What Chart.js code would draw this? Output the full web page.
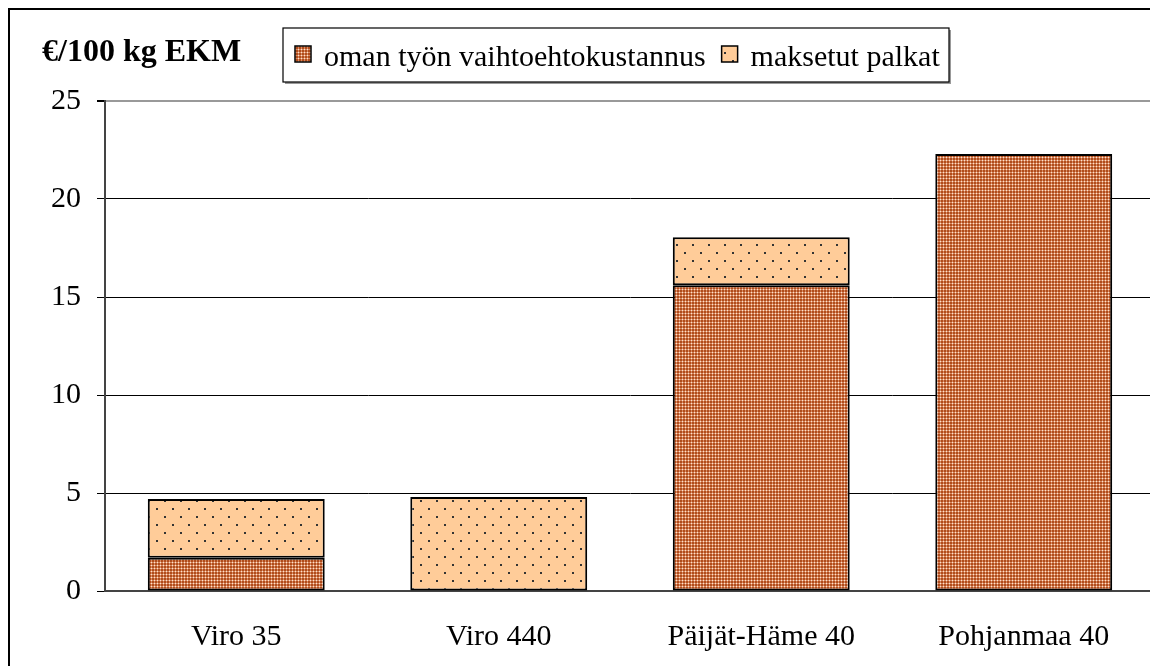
<!DOCTYPE html>
<html>
<head>
<meta charset="utf-8">
<script src="https://cdn.jsdelivr.net/npm/chart.js@4/dist/chart.umd.min.js"></script>
<style>
  html, body { margin: 0; padding: 0; background: #fff; overflow: hidden; }
  #frame { position: absolute; left: 8px; top: 8px; width: 1300px; height: 800px;
           border-left: 2px solid #000; border-top: 2px solid #000; }
  #wrap { position: absolute; left: 0; top: 0; width: 1160px; height: 666px; }
</style>
</head>
<body>
<div id="frame"></div>
<div id="wrap"><canvas id="kustannusChart"></canvas></div>
<script>
// Kategoriat ja sarjat
const kategoriat = ['Viro 35', 'Viro 440', 'Päijät-Häme 40', 'Pohjanmaa 40'];
const omanTyonKustannus = [1.7, 0, 15.6, 22.3];
const maksetutPalkat = [3.0, 4.8, 2.45, 0];
const yTicks = [0, 5, 10, 15, 20, 25];
const sarjaNimet = ['oman työn vaihtoehtokustannus', 'maksetut palkat'];

// Kuviot (ruskea pisterasteri ja oranssi pisteet)
function ruskeaKuvio() {
    const c = document.createElement('canvas');
    c.width = 3; c.height = 3;
    const g = c.getContext('2d');
    g.fillStyle = '#b04c1c';
    g.fillRect(0, 0, 3, 3);
    g.fillStyle = '#d98a62';
    g.fillRect(1, 0, 1, 3);
    g.fillRect(0, 1, 3, 1);
    g.fillStyle = '#fbe2d0';
    g.fillRect(1, 1, 1, 1);
    return g.createPattern(c, 'repeat');
}
function oranssiKuvio() {
    const c = document.createElement('canvas');
    c.width = 16; c.height = 16;
    const g = c.getContext('2d');
    g.fillStyle = '#ffcc99';
    g.fillRect(0, 0, 16, 16);
    g.fillStyle = '#333333';
    g.fillRect(4, 4, 2, 2);
    g.fillRect(12, 12, 2, 2);
    return g.createPattern(c, 'repeat');
}
const ctx = document.getElementById('kustannusChart').getContext('2d');
const ruskea = ruskeaKuvio();
const oranssi = oranssiKuvio();

// Otsikko ja selite piirretään itse
const omaPiirto = {
    id: 'omaPiirto',
    afterDraw(chart) {
        const g = chart.ctx;
        g.save();
        g.fillStyle = '#000';
        g.font = 'bold 32px "Liberation Serif"';
        g.textBaseline = 'alphabetic';
        g.textAlign = 'left';
        g.fillText('€/100 kg EKM', 42, 61);

        // selitelaatikko
        const x0 = 283, y0 = 28, w = 666, h = 54;
        g.fillStyle = '#999';
        g.fillRect(x0 + 2, y0 + 2, w, h);
        g.fillStyle = '#fff';
        g.fillRect(x0, y0, w, h);
        g.strokeStyle = '#000';
        g.lineWidth = 1.2;
        g.strokeRect(x0, y0, w, h);

        g.font = '30px "Liberation Serif"';
        const tayte = [ruskea, oranssi];
        let x = x0 + 12;
        sarjaNimet.forEach((nimi, i) => {
            g.fillStyle = tayte[i];
            g.fillRect(x, 46, 16, 16);
            g.strokeStyle = '#000';
            g.lineWidth = 1.5;
            g.strokeRect(x, 46, 16, 16);
            g.fillStyle = '#000';
            g.fillText(nimi, x + 29, 66);
            x += 29 + g.measureText(nimi).width + 16;
        });
        g.restore();
    }
};

new Chart(ctx, {
    type: 'bar',
    data: {
        labels: kategoriat,
        datasets: [{
            label: sarjaNimet[0],
            data: omanTyonKustannus,
            backgroundColor: ruskea,
            borderColor: '#000',
            borderWidth: 2,
            borderSkipped: false
        }, {
            label: sarjaNimet[1],
            data: maksetutPalkat,
            backgroundColor: oranssi,
            borderColor: '#000',
            borderWidth: 2,
            borderSkipped: false
        }]
    },
    options: {
        responsive: true,
        maintainAspectRatio: false,
        animation: false,
        layout: { padding: { top: 101, right: 5, left: 0, bottom: 0 } },
        datasets: { bar: { categoryPercentage: 1, barPercentage: 0.674 } },
        plugins: {
            legend: { display: false },
            tooltip: { enabled: false }
        },
        scales: {
            x: {
                stacked: true,
                grid: { display: false },
                border: { color: '#444', width: 2 },
                ticks: { color: '#000', font: { family: 'Liberation Serif', size: 30 }, padding: 20, maxRotation: 0 },
                afterFit(s) { s.height = 75; }
            },
            y: {
                stacked: true,
                min: 0, max: 25,
                afterBuildTicks(s) { s.ticks = yTicks.map(v => ({ value: v })); },
                grid: {
                    color: ctx2 => ctx2.tick && ctx2.tick.value === 25 ? '#999' : '#000',
                    lineWidth: ctx2 => ctx2.tick && ctx2.tick.value === 25 ? 2 : 1,
                    tickLength: 8,
                    tickColor: '#000'
                },
                border: { color: '#444', width: 2 },
                ticks: { color: '#000', font: { family: 'Liberation Serif', size: 30 }, padding: 16 },
                afterFit(s) { s.width = 105; }
            }
        }
    },
    plugins: [omaPiirto]
});
</script>
</body>
</html>
